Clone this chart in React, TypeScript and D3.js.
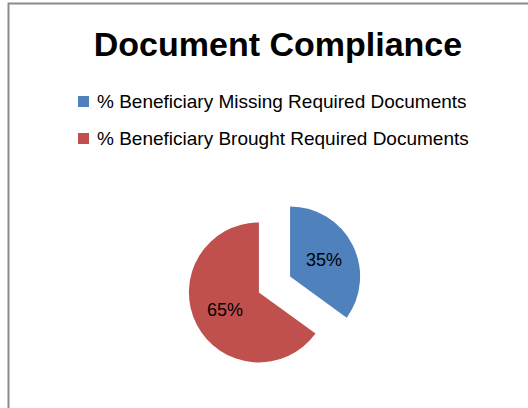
import React, { useEffect, useRef } from 'react';
import * as d3 from 'd3';

// chart data
const categories = [
  '% Beneficiary Missing Required Documents',
  '% Beneficiary Brought Required Documents',
];
const values = [35, 65];
const sliceLabels = ['35%', '65%'];
const colors = ['#4F81BD', '#C0504D'];
const title = 'Document Compliance';

const App = () => {
  const ref = useRef<SVGSVGElement>(null);

  useEffect(() => {
    const svg = d3.select(ref.current);
    svg.selectAll('*').remove();

    const width = 528;
    const height = 408;
    const font = '"Liberation Sans", Arial, sans-serif';

    // frame (only top and left edges show in the crop)
    svg.append('rect')
      .attr('x', 8.5)
      .attr('y', 3.5)
      .attr('width', width + 10)
      .attr('height', height + 10)
      .attr('fill', '#fff')
      .attr('stroke', '#8c8c8c')
      .attr('stroke-width', 2);

    svg.append('text')
      .attr('x', 278)
      .attr('y', 56)
      .attr('text-anchor', 'middle')
      .attr('font-family', font)
      .attr('font-weight', 'bold')
      .attr('font-size', 34)
      .attr('fill', '#000')
      .text(title);

    // legend
    const legend = svg.append('g').attr('transform', 'translate(78, 96)');
    const item = legend.selectAll('g')
      .data(categories)
      .enter()
      .append('g')
      .attr('transform', (d, i) => `translate(0, ${i * 37})`);
    item.append('rect')
      .attr('width', 11)
      .attr('height', 11)
      .attr('fill', (d, i) => colors[i]);
    item.append('text')
      .attr('x', 19)
      .attr('y', 12)
      .attr('font-family', font)
      .attr('font-size', 19)
      .attr('fill', '#000')
      .text(d => d);

    // pie
    const cx = 274.5;
    const cy = 284.5;
    const radius = 70;
    const explode = 17.5;

    const pie = d3.pie<number>().sort(null).value(d => d);
    const arcs = pie(values);
    const arc = d3.arc<d3.PieArcDatum<number>>().innerRadius(0).outerRadius(radius);
    const labelArc = d3.arc<d3.PieArcDatum<number>>().innerRadius(38).outerRadius(38);

    const g = svg.append('g').attr('transform', `translate(${cx}, ${cy})`);
    const slice = g.selectAll('g.slice')
      .data(arcs)
      .enter()
      .append('g')
      .attr('class', 'slice')
      .attr('transform', d => {
        const a = (d.startAngle + d.endAngle) / 2;
        return `translate(${explode * Math.sin(a)}, ${-explode * Math.cos(a)})`;
      });

    slice.append('path')
      .attr('d', arc)
      .attr('fill', (d, i) => colors[i]);

    slice.append('text')
      .attr('transform', d => `translate(${labelArc.centroid(d)})`)
      .attr('text-anchor', 'middle')
      .attr('dy', '0.35em')
      .attr('font-family', font)
      .attr('font-size', 18)
      .attr('fill', '#000')
      .text((d, i) => sliceLabels[i]);
  }, []);

  return (
    <svg
      ref={ref}
      width={528}
      height={408}
      style={{ position: 'absolute', left: 0, top: 0, background: '#fff' }}
    />
  );
};

export default App;
